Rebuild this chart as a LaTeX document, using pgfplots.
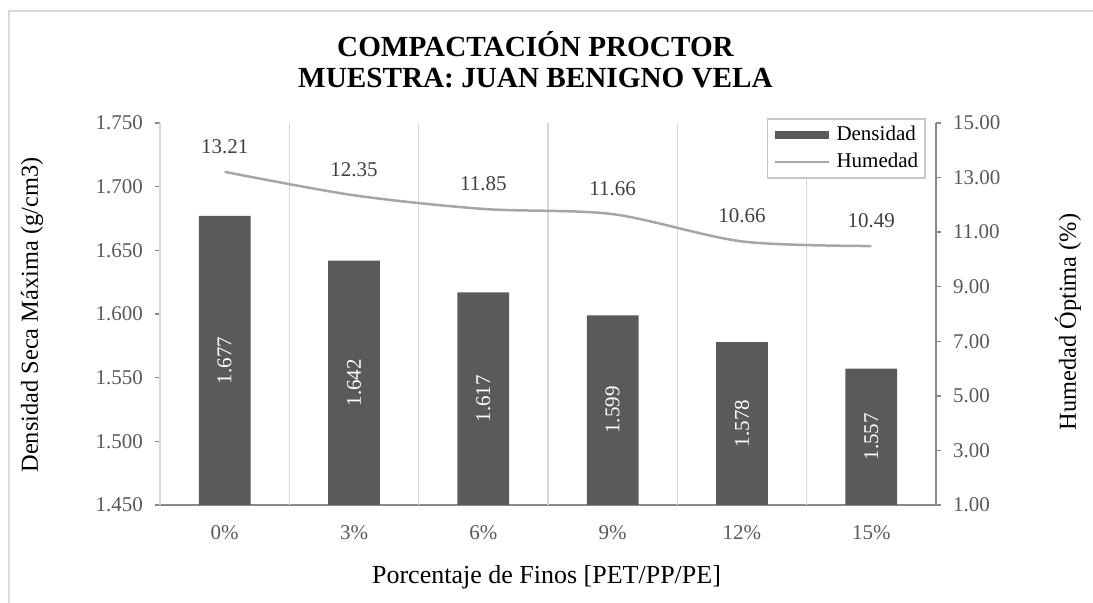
\documentclass[border=0pt]{standalone}
\usepackage{fontspec}
\setmainfont{Liberation Serif}
\usepackage{pgfplots}
\usepackage{pgfplotstable}
\pgfplotsset{compat=1.18}
\definecolor{barc}{HTML}{5A5A5A}
\definecolor{linec}{HTML}{A6A6A6}
\definecolor{axisc}{HTML}{898989}
\definecolor{gridc}{HTML}{D9D9D9}
\definecolor{tickc}{HTML}{595959}
\definecolor{lblc}{HTML}{404040}
\definecolor{borderc}{HTML}{D9D9D9}

\pgfplotstableread{
x dens mid
0 1.677 1.5635
1 1.642 1.5460
2 1.617 1.5335
3 1.599 1.5245
4 1.578 1.5140
5 1.557 1.5035
}\densdata

\pgfplotstableread{
x hum
0 13.21
1 12.35
2 11.85
3 11.66
4 10.66
5 10.49
}\humdata

\newcommand{\tfont}{\fontsize{10.5}{12}\selectfont}

\begin{document}
\begin{tikzpicture}
\useasboundingbox (0,0) rectangle (546.5pt,301.5pt);
\draw[borderc, line width=1pt] (4.25pt,0pt) -- (4.25pt,296pt) -- (546.5pt,296pt);

\node[font=\fontsize{14.6}{17}\selectfont\bfseries, anchor=base] at (267.75pt,273pt) {COMPACTACIÓN PROCTOR};
\node[font=\fontsize{14.6}{17}\selectfont\bfseries, anchor=base] at (267.75pt,257.5pt) {MUESTRA: JUAN BENIGNO VELA};
\node[font=\fontsize{12.2}{14}\selectfont, rotate=90] at (16pt,144pt) {Densidad Seca Máxima (g/cm3)};
\node[font=\fontsize{12.2}{14}\selectfont, rotate=90] at (534pt,140.5pt) {Humedad Óptima (\%)};
\node[font=\fontsize{13}{15}\selectfont] at (273.25pt,13pt) {Porcentaje de Finos [PET/PP/PE]};

\begin{axis}[
  at={(80pt,49pt)}, anchor=south west,
  scale only axis, width=388pt, height=191pt,
  xmin=-0.5, xmax=5.5, ymin=1.45, ymax=1.75,
  axis x line*=bottom, axis y line*=left,
  axis line style={axisc, line width=0.75pt},
  tick align=outside, major tick length=2.5pt,
  tick style={axisc, line width=0.75pt},
  xtick={0,1,2,3,4,5},
  xticklabels={0\%,3\%,6\%,9\%,12\%,15\%},
  xtick style={draw=none},
  extra x ticks={-0.5,0.5,1.5,2.5,3.5,4.5,5.5},
  extra x tick labels={},
  extra x tick style={grid=major, major grid style={gridc, line width=0.75pt}},
  ytick={1.45,1.5,1.55,1.6,1.65,1.7,1.75},
  yticklabel style={/pgf/number format/fixed, /pgf/number format/fixed zerofill, /pgf/number format/precision=3, /pgf/number format/assume math mode=true, xshift=-2.5pt},
  ticklabel style={font=\tfont, text=tickc},
  xticklabel style={yshift=-4pt},
  clip=false,
]
\addplot[ybar, bar width=0.4, fill=barc, draw=none, bar shift=0pt] table[x=x, y=dens] {\densdata};
\addplot[draw=none, mark=none, nodes near coords, point meta=explicit symbolic,
  nodes near coords style={anchor=center, rotate=90, text=white, font=\tfont, inner sep=0pt}]
  table[x=x, y=mid, meta=dens] {\densdata};
\end{axis}

\begin{axis}[
  at={(80pt,49pt)}, anchor=south west,
  scale only axis, width=388pt, height=191pt,
  xmin=-0.5, xmax=5.5, ymin=1, ymax=15,
  axis x line=none, axis y line*=right,
  axis line style={axisc, line width=0.75pt},
  tick align=outside, major tick length=2.5pt,
  tick style={axisc, line width=0.75pt},
  ytick={1,3,5,7,9,11,13,15},
  yticklabel style={/pgf/number format/fixed, /pgf/number format/fixed zerofill, /pgf/number format/precision=2, /pgf/number format/assume math mode=true, xshift=2.5pt},
  ticklabel style={font=\tfont, text=tickc},
  clip=false,
  legend style={at={(0.987,1.013)}, anchor=north east, draw=gridc!80!gray, line width=0.75pt,
    font=\tfont, inner sep=1.5pt, row sep=1pt, legend cell align=left},
  legend image code/.code={\draw[#1] (0pt,0pt) -- (27pt,0pt);},
]
\addlegendimage{barc, line width=4pt}
\addlegendentry{Densidad}
\addplot[linec, line width=1.25pt, smooth, mark=none,
  nodes near coords, point meta=y,
  nodes near coords style={anchor=center, yshift=12.75pt, text=lblc, font=\tfont,
    /pgf/number format/fixed, /pgf/number format/fixed zerofill, /pgf/number format/precision=2, /pgf/number format/assume math mode=true}]
  table[x=x, y=hum] {\humdata};
\addlegendentry{Humedad}
\end{axis}
\end{tikzpicture}
\end{document}
